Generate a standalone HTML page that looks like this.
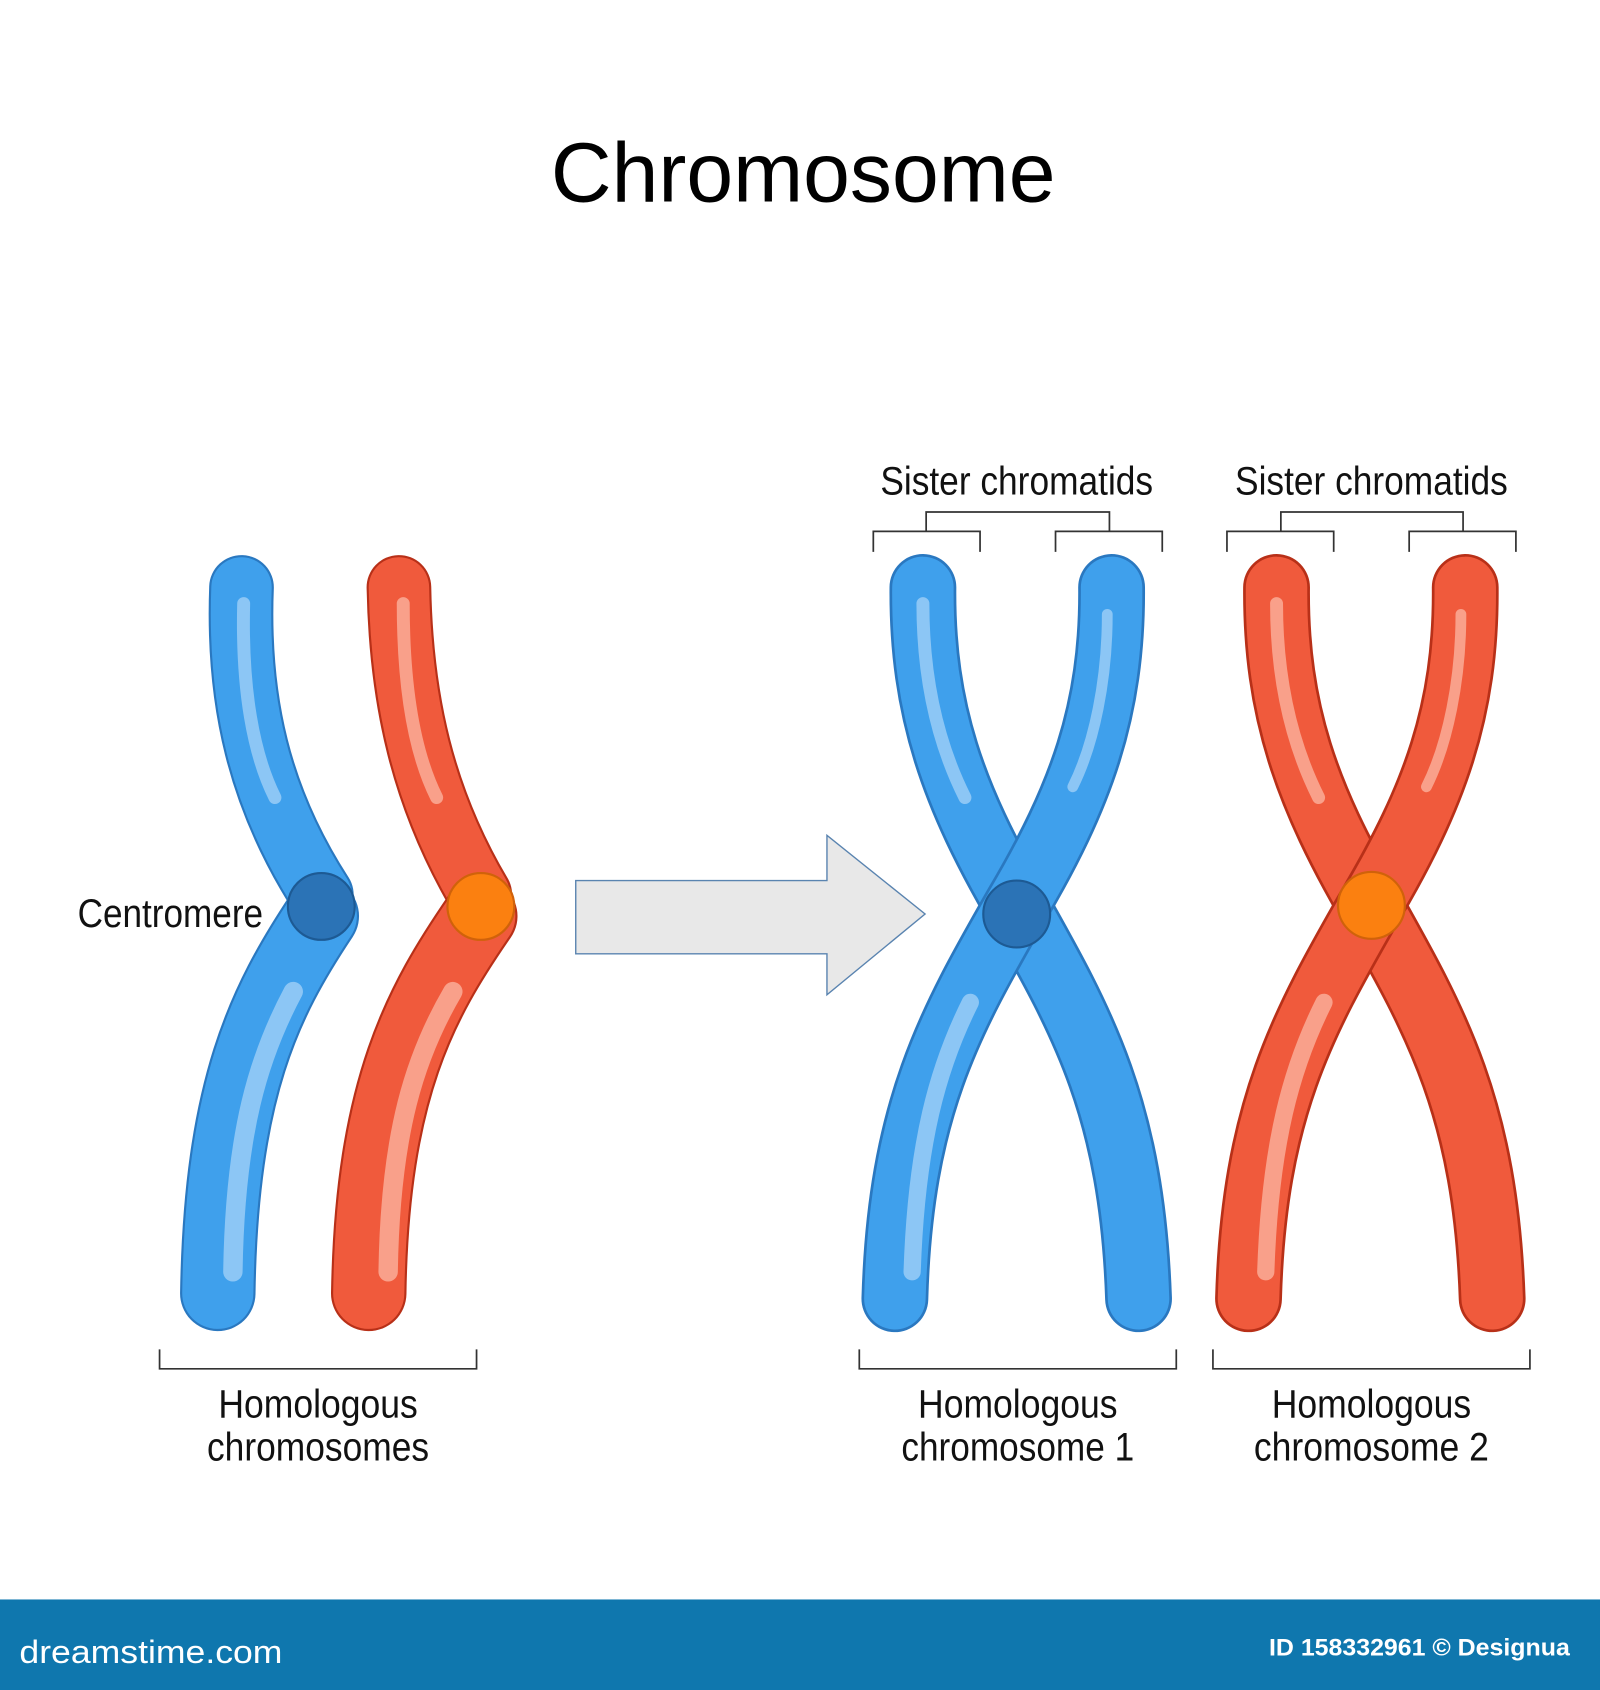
<!DOCTYPE html>
<html><head><meta charset="utf-8"><style>
html,body{margin:0;padding:0;background:#fff;}
svg{display:block;}
</style></head><body>
<svg width="1600" height="1690" viewBox="0 0 1484 1568" preserveAspectRatio="none" xmlns="http://www.w3.org/2000/svg">
<rect width="1484" height="1568" fill="#fff"/>
<text x="745" y="187" font-family="Liberation Sans, sans-serif" font-size="78" text-anchor="middle" fill="#000" textLength="468" lengthAdjust="spacingAndGlyphs">Chromosome</text>

<g font-family="Liberation Sans, sans-serif" font-size="37" fill="#111" text-anchor="middle" lengthAdjust="spacingAndGlyphs">
<text x="158" y="860" textLength="172" lengthAdjust="spacingAndGlyphs">Centromere</text>
<text x="656" y="860" textLength="162" lengthAdjust="spacingAndGlyphs">Replication</text>
<text x="943" y="459" textLength="253" lengthAdjust="spacingAndGlyphs">Sister chromatids</text>
<text x="1272" y="459" textLength="253" lengthAdjust="spacingAndGlyphs">Sister chromatids</text>
<text x="295" y="1315" textLength="185" lengthAdjust="spacingAndGlyphs">Homologous</text>
<text x="295" y="1355" textLength="206" lengthAdjust="spacingAndGlyphs">chromosomes</text>
<text x="944" y="1315" textLength="185" lengthAdjust="spacingAndGlyphs">Homologous</text>
<text x="944" y="1355" textLength="216" lengthAdjust="spacingAndGlyphs">chromosome 1</text>
<text x="1272" y="1315" textLength="185" lengthAdjust="spacingAndGlyphs">Homologous</text>
<text x="1272" y="1355" textLength="218" lengthAdjust="spacingAndGlyphs">chromosome 2</text>
</g>

<g fill="none" stroke="#333" stroke-width="1.6">
<path d="M148,1252 V1270 H442 V1252"/>
<path d="M797,1252 V1270 H1091 V1252"/>
<path d="M1125,1252 V1270 H1419 V1252"/>
<path d="M810,512 V493 H909 V512 M979,512 V493 H1078 V512 M859,493 V475 H1029 V493"/>
<path d="M1138,512 V493 H1237 V512 M1307,512 V493 H1406 V512 M1188,493 V475 H1357 V493"/>
</g>

<path d="M534,817 H767 V775 L858,848 L767,923 V885 H534 Z" fill="#e8e8e8" stroke="#5a84b0" stroke-width="1.3"/>

<!-- left chromosomes -->
<g stroke-linecap="round" fill="none">
 <path d="M224,545 C220,650 240,740 298,830" stroke="#2a78c0" stroke-width="60"/>
 <path d="M224,545 C220,650 240,740 298,830" stroke="#3fa0ec" stroke-width="56"/>
 <path d="M298,850 C245,930 205,1010 202,1200" stroke="#2a78c0" stroke-width="70"/>
 <path d="M298,850 C245,930 205,1010 202,1200" stroke="#3fa0ec" stroke-width="66"/>
 <path d="M226,560 C224,640 235,700 255,740" stroke="#8cc6f5" stroke-width="12"/>
 <path d="M272,920 C240,980 218,1050 216,1180" stroke="#8cc6f5" stroke-width="18"/>

 <path d="M370,545 C372,650 392,740 445,830" stroke="#b83018" stroke-width="60"/>
 <path d="M370,545 C372,650 392,740 445,830" stroke="#f05a3c" stroke-width="56"/>
 <path d="M445,850 C390,930 345,1010 342,1200" stroke="#b83018" stroke-width="70"/>
 <path d="M445,850 C390,930 345,1010 342,1200" stroke="#f05a3c" stroke-width="66"/>
 <path d="M374,560 C374,640 385,700 405,740" stroke="#f9a08a" stroke-width="12"/>
 <path d="M420,920 C385,980 362,1050 360,1180" stroke="#f9a08a" stroke-width="18"/>
</g>
<circle cx="298" cy="841" r="31" fill="#2b73b6" stroke="#1d5a94" stroke-width="2"/>
<circle cx="446" cy="841" r="31" fill="#fb8010" stroke="#d0620a" stroke-width="2"/>

<!-- right X -->
<g stroke-linecap="round" fill="none">
 <path d="M856,545 C855,660 885,740 943,840 C1005,950 1050,1030 1056,1205" stroke="#2a78c0" stroke-width="62"/>
 <path d="M856,545 C855,660 885,740 943,840 C1005,950 1050,1030 1056,1205" stroke="#3fa0ec" stroke-width="57"/>
 <path d="M1031,545 C1032,660 1002,740 943,840 C880,950 835,1030 830,1205" stroke="#2a78c0" stroke-width="62"/>
 <path d="M1031,545 C1032,660 1002,740 943,840 C880,950 835,1030 830,1205" stroke="#3fa0ec" stroke-width="57"/>
 <path d="M856,560 C856,630 870,690 895,740" stroke="#8cc6f5" stroke-width="12"/>
 <path d="M1027,570 C1027,630 1015,690 995,730" stroke="#8cc6f5" stroke-width="10"/>
 <path d="M900,930 C870,990 850,1060 846,1180" stroke="#8cc6f5" stroke-width="16"/>

 <path d="M1184,545 C1183,660 1213,740 1271,840 C1333,950 1378,1030 1384,1205" stroke="#b83018" stroke-width="62"/>
 <path d="M1184,545 C1183,660 1213,740 1271,840 C1333,950 1378,1030 1384,1205" stroke="#f05a3c" stroke-width="57"/>
 <path d="M1359,545 C1360,660 1330,740 1271,840 C1208,950 1163,1030 1158,1205" stroke="#b83018" stroke-width="62"/>
 <path d="M1359,545 C1360,660 1330,740 1271,840 C1208,950 1163,1030 1158,1205" stroke="#f05a3c" stroke-width="57"/>
 <path d="M1184,560 C1184,630 1198,690 1223,740" stroke="#f9a08a" stroke-width="12"/>
 <path d="M1355,570 C1355,630 1343,690 1323,730" stroke="#f9a08a" stroke-width="10"/>
 <path d="M1228,930 C1198,990 1178,1060 1174,1180" stroke="#f9a08a" stroke-width="16"/>
</g>
<circle cx="943" cy="848" r="31" fill="#2b73b6" stroke="#1d5a94" stroke-width="2"/>
<circle cx="1272" cy="840" r="31" fill="#fb8010" stroke="#d0620a" stroke-width="2"/>

<rect x="0" y="1484" width="1484" height="84" fill="#0f77ae"/>
<text x="18" y="1543" font-family="Liberation Sans, sans-serif" font-size="30" fill="#fff" textLength="244" lengthAdjust="spacingAndGlyphs">dreamstime.com</text>
<text x="1456" y="1536" font-family="Liberation Sans, sans-serif" font-size="22" font-weight="bold" fill="#fff" text-anchor="end" textLength="279" lengthAdjust="spacingAndGlyphs">ID 158332961 © Designua</text>
</svg>
</body></html>
